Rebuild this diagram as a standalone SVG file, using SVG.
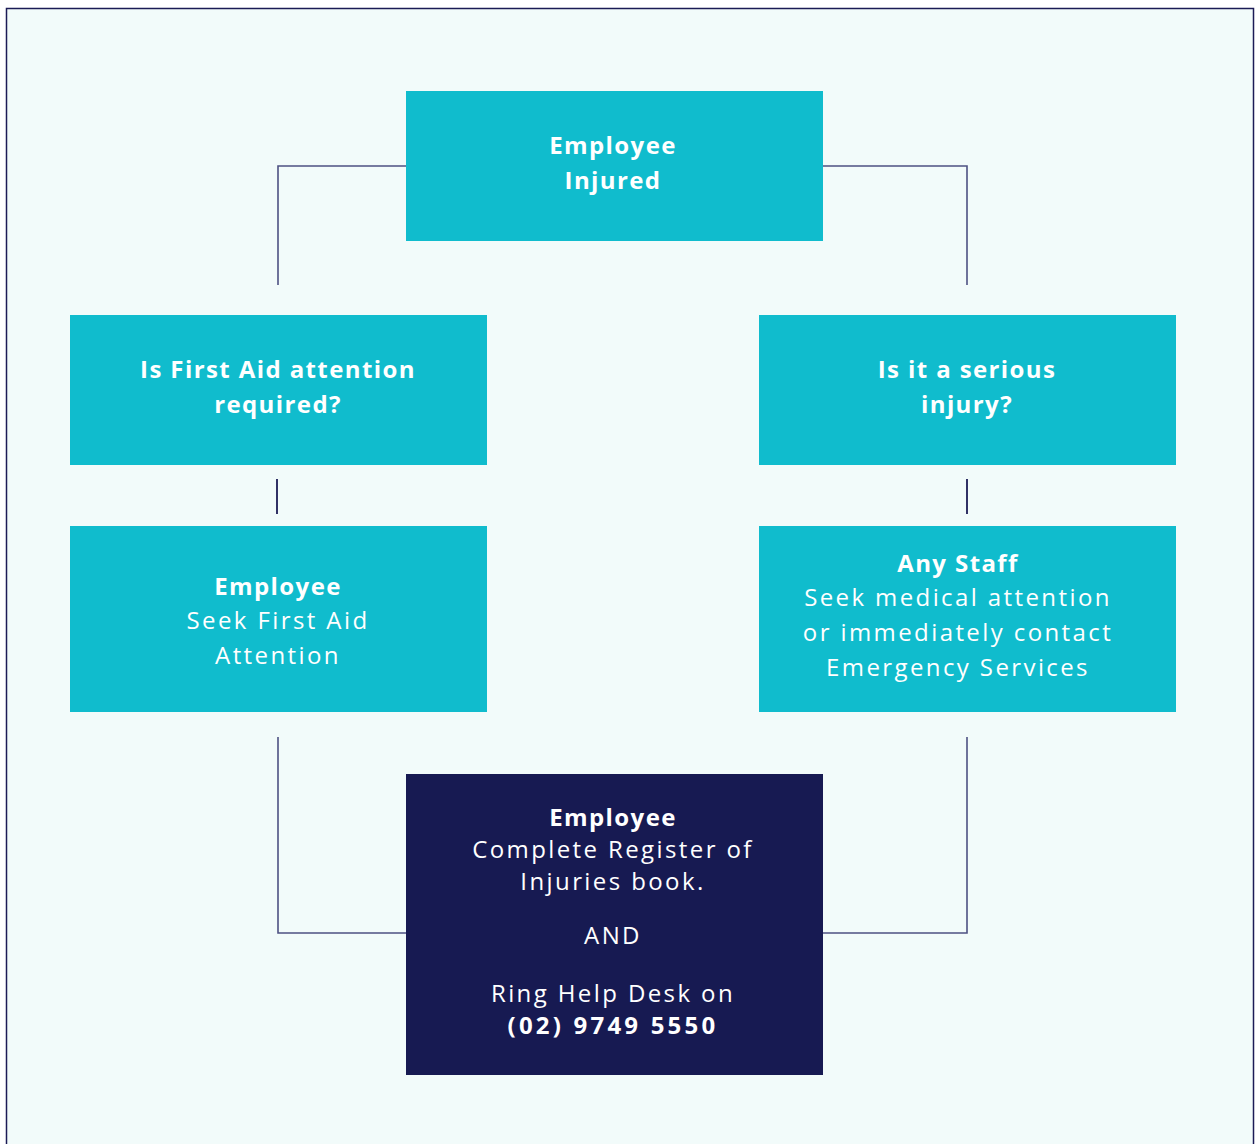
<svg xmlns="http://www.w3.org/2000/svg" width="1255" height="1144" viewBox="0 0 1255 1144">
<style>
.t{font-family:"Open Sans","Noto Sans",sans-serif;font-size:24px;fill:#ffffff;text-anchor:middle;letter-spacing:1.4px}
.b{font-weight:bold}
.r{font-weight:normal;letter-spacing:2.4px}
.num{letter-spacing:3.2px}
.box{fill:#10bccd}
.dark{fill:#171a52}
.ln{fill:none;stroke:#4e5283;stroke-width:1.6}
.sl{fill:none;stroke:#1b1b55;stroke-width:1.8}
</style>
<rect x="6.5" y="8.5" width="1247" height="1150" fill="#f2fbfa" stroke="#1b1b55" stroke-width="1.5"/>
<g id="connectors">
<path class="ln" d="M406 166 H278 V285"/>
<path class="ln" d="M823 166 H967 V285"/>
<path class="sl" d="M277 479 V514"/>
<path class="sl" d="M967 479 V514"/>
<path class="ln" d="M278 737 V933 H406"/>
<path class="ln" d="M967 737 V933 H823"/>
</g>
<g id="n1">
<rect class="box" x="406" y="91" width="417" height="150"/>
<text class="t b" x="613" y="154">Employee</text>
<text class="t b" x="613" y="189">Injured</text>
</g>
<g id="n2">
<rect class="box" x="70" y="315" width="417" height="150"/>
<text class="t b" x="278" y="378">Is First Aid attention</text>
<text class="t b" x="278" y="413">required?</text>
</g>
<g id="n3">
<rect class="box" x="759" y="315" width="417" height="150"/>
<text class="t b" x="967" y="378">Is it a serious</text>
<text class="t b" x="967" y="413">injury?</text>
</g>
<g id="n4">
<rect class="box" x="70" y="526" width="417" height="186"/>
<text class="t b" x="278" y="595">Employee</text>
<text class="t r" x="278" y="629">Seek First Aid</text>
<text class="t r" x="278" y="664">Attention</text>
</g>
<g id="n5">
<rect class="box" x="759" y="526" width="417" height="186"/>
<text class="t b" x="958" y="572">Any Staff</text>
<text class="t r" x="958" y="606">Seek medical attention</text>
<text class="t r" x="958" y="641">or immediately contact</text>
<text class="t r" x="958" y="676">Emergency Services</text>
</g>
<g id="n6">
<rect class="dark" x="406" y="774" width="417" height="301"/>
<text class="t b" x="613" y="826">Employee</text>
<text class="t r" x="613" y="858">Complete Register of</text>
<text class="t r" x="613" y="890">Injuries book.</text>
<text class="t r" x="613" y="944">AND</text>
<text class="t r" x="613" y="1002">Ring Help Desk on</text>
<text class="t b num" x="613" y="1034">(02) 9749 5550</text>
</g>
</svg>
